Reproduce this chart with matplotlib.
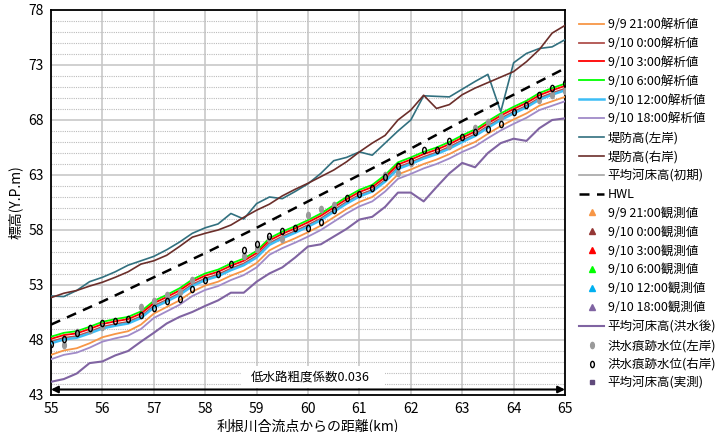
import matplotlib
matplotlib.use("Agg")
import matplotlib.pyplot as plt
from matplotlib.patches import Rectangle
from matplotlib.markers import MarkerStyle
from matplotlib.transforms import Affine2D

plt.rcParams['font.family'] = ['Noto Sans CJK JP', 'DejaVu Sans']

# distance (km), every 0.25 km
km = [55.0, 55.25, 55.5, 55.75, 56.0, 56.25, 56.5, 56.75, 57.0, 57.25, 57.5, 57.75,
      58.0, 58.25, 58.5, 58.75, 59.0, 59.25, 59.5, 59.75, 60.0, 60.25, 60.5, 60.75,
      61.0, 61.25, 61.5, 61.75, 62.0, 62.25, 62.5, 62.75, 63.0, 63.25, 63.5, 63.75,
      64.0, 64.25, 64.5, 64.75, 65.0]

# analysis water levels
wl_0909_21 = [46.65, 47.05, 47.25, 47.7, 48.25, 48.55, 48.8, 49.4, 50.4, 51.0, 51.6, 52.4,
              52.95, 53.3, 53.85, 54.3, 55.0, 56.15, 56.75, 57.25, 57.8, 58.4, 59.15, 59.9,
              60.55, 61.0, 61.9, 63.05, 63.5, 64.0, 64.4, 64.9, 65.5, 66.0, 66.75, 67.45,
              68.05, 68.6, 69.3, 69.7, 70.1]
wl_0910_00 = [47.85, 48.2, 48.35, 48.75, 49.2, 49.45, 49.65, 50.15, 51.1, 51.65, 52.25, 53.05,
              53.6, 53.95, 54.5, 54.95, 55.65, 56.8, 57.4, 57.9, 58.45, 59.05, 59.8, 60.55,
              61.2, 61.65, 62.55, 63.7, 64.15, 64.65, 65.05, 65.55, 66.15, 66.7, 67.45, 68.15,
              68.75, 69.3, 70.0, 70.45, 70.85]
wl_0910_03 = [48.1, 48.45, 48.6, 49.0, 49.45, 49.7, 49.9, 50.4, 51.35, 51.9, 52.5, 53.3,
              53.85, 54.2, 54.75, 55.2, 55.9, 57.05, 57.65, 58.15, 58.7, 59.3, 60.05, 60.8,
              61.45, 61.9, 62.8, 63.95, 64.4, 64.9, 65.3, 65.8, 66.4, 66.95, 67.7, 68.4,
              69.0, 69.55, 70.25, 70.7, 71.1]
wl_0910_06 = [48.3, 48.65, 48.8, 49.2, 49.65, 49.9, 50.1, 50.6, 51.55, 52.1, 52.7, 53.5,
              54.05, 54.4, 54.95, 55.4, 56.1, 57.25, 57.85, 58.35, 58.9, 59.5, 60.25, 61.0,
              61.65, 62.1, 63.0, 64.15, 64.6, 65.1, 65.5, 66.0, 66.6, 67.15, 67.9, 68.6,
              69.2, 69.75, 70.45, 70.9, 71.3]
wl_0910_12 = [47.7, 48.05, 48.2, 48.6, 49.05, 49.3, 49.5, 50.0, 50.95, 51.5, 52.1, 52.9,
              53.45, 53.8, 54.35, 54.8, 55.5, 56.65, 57.25, 57.75, 58.3, 58.9, 59.65, 60.4,
              61.05, 61.5, 62.4, 63.55, 64.0, 64.5, 64.9, 65.4, 66.0, 66.55, 67.3, 68.0,
              68.6, 69.15, 69.85, 70.3, 70.7]
wl_0910_18 = [46.25, 46.65, 46.85, 47.3, 47.85, 48.15, 48.4, 49.0, 50.0, 50.6, 51.2, 52.0,
              52.55, 52.9, 53.45, 53.9, 54.6, 55.75, 56.35, 56.85, 57.4, 58.0, 58.75, 59.5,
              60.15, 60.6, 61.5, 62.65, 63.1, 63.6, 64.0, 64.5, 65.1, 65.6, 66.35, 67.05,
              67.65, 68.2, 68.9, 69.3, 69.7]

# levee crowns
levee_left = [52.0, 51.95, 52.5, 53.3, 53.7, 54.2, 54.8, 55.2, 55.6, 56.2, 56.9, 57.7,
              58.2, 58.55, 59.5, 59.0, 60.4, 61.0, 60.85, 61.5, 62.2, 63.15, 64.3, 64.6,
              65.1, 64.8, 65.9, 67.0, 68.0, 70.2, 70.15, 70.1, 70.8, 71.5, 72.15, 68.75,
              73.2, 74.05, 74.5, 74.65, 75.3]
levee_right = [51.85, 52.25, 52.5, 52.9, 53.25, 53.7, 54.2, 54.9, 55.2, 55.7, 56.5, 57.35,
               57.7, 58.0, 58.45, 59.15, 59.8, 60.35, 61.1, 61.7, 62.25, 62.85, 63.45, 64.2,
               65.1, 65.9, 66.6, 68.0, 68.9, 70.25, 69.05, 69.4, 70.3, 70.9, 71.4, 71.9,
               72.4, 73.3, 74.4, 75.9, 76.6]

# mean riverbed after flood
bed_after = [44.2, 44.45, 44.95, 45.9, 46.05, 46.6, 47.0, 47.85, 48.65, 49.5, 50.1, 50.55,
             51.1, 51.6, 52.3, 52.3, 53.3, 54.05, 54.6, 55.5, 56.5, 56.7, 57.4, 58.1,
             58.95, 59.2, 60.1, 61.4, 61.4, 60.6, 61.9, 63.15, 64.1, 63.7, 65.0, 65.9,
             66.3, 66.1, 67.25, 68.0, 68.15]

# HWL
hwl_km = [55, 56, 57, 58, 59, 60, 61, 62, 63, 64, 65]
hwl = [49.4, 51.5, 53.7, 55.9, 58.2, 60.6, 63.0, 65.4, 67.9, 70.3, 72.7]

# flood marks
mark_right = [47.65, 48.05, 48.6, 49.05, 49.55, 49.75, 49.9, 50.3, 50.95, 51.55, 51.75, 52.6,
              53.5, 54.0, 54.95, 56.2, 56.7, 57.45, 57.9, 58.15, 58.15, 58.7, 59.8, 60.9,
              61.3, 61.8, 62.8, 63.8, 64.3, 65.25, 65.3, 66.1, 66.5, 66.9, 67.15, 67.6,
              68.75, 69.35, 70.3, 70.9, 71.4]
mark_left_km = [55.25, 55.5, 55.75, 56.0, 56.75, 57.0, 57.25, 57.5, 57.75, 58.75, 59.0, 59.25,
                59.5, 60.0, 60.25, 60.5, 61.5, 61.75, 62.0, 62.75, 63.25, 63.5, 63.75, 64.5,
                64.75, 65.0]
mark_left = [47.55, 48.7, 48.95, 49.2, 51.0, 51.55, 52.1, 52.4, 53.45, 55.6, 56.3, 57.2,
             57.2, 59.35, 59.95, 60.25, 63.0, 63.15, 64.1, 65.6, 67.25, 67.85, 68.3, 69.8,
             70.3, 70.65]

ellipse = MarkerStyle('o', transform=Affine2D().scale(0.6, 1.0))

fig = plt.figure(figsize=(7.17, 4.32), dpi=100)
ax = fig.add_axes([51 / 717, 1 - 395 / 432, 514 / 717, 385 / 432])

ax.plot(km, wl_0909_21, color='#F79646', lw=1.3, label='9/9 21:00解析値', zorder=3)
ax.plot(km, wl_0910_00, color='#B0504D', lw=1.3, label='9/10 0:00解析値', zorder=3)
ax.plot(km, wl_0910_03, color='#FF0000', lw=1.3, label='9/10 3:00解析値', zorder=4)
ax.plot(km, wl_0910_06, color='#00FF00', lw=1.3, label='9/10 6:00解析値', zorder=3)
ax.plot(km, wl_0910_12, color='#3DBDF5', lw=1.8, label='9/10 12:00解析値', zorder=3)
ax.plot(km, wl_0910_18, color='#A08AC8', lw=1.3, label='9/10 18:00解析値', zorder=3)
ax.plot(km, levee_left, color='#31707F', lw=1.2, label='堤防高(左岸)', zorder=3)
ax.plot(km, levee_right, color='#6B2E2A', lw=1.2, label='堤防高(右岸)', zorder=3)
ax.plot([], [], color='#A6A6A6', lw=1.2, label='平均河床高(初期)')
ax.plot(hwl_km, hwl, color='black', lw=1.8, ls=(0, (4, 3)), label='HWL', zorder=3)
obs_colors = ['#F79646', '#953735', '#FF0000', '#00FF00', '#00B0F0', '#8064A2']
obs_labels = ['9/9 21:00観測値', '9/10 0:00観測値', '9/10 3:00観測値',
              '9/10 6:00観測値', '9/10 12:00観測値', '9/10 18:00観測値']
for c, lab in zip(obs_colors, obs_labels):
    ax.plot([], [], ls='none', marker='^', ms=5, color=c, label=lab)
ax.plot(km, bed_after, color='#8064A2', lw=1.5, label='平均河床高(洪水後)', zorder=3)
ax.plot(mark_left_km, mark_left, ls='none', marker=ellipse, ms=4.5, mfc='#9A9A9A', mec='#9A9A9A',
        label='洪水痕跡水位(左岸)', zorder=5)
ax.plot(km, mark_right, ls='none', marker=ellipse, ms=4.5, mfc='none', mec='black', mew=1,
        label='洪水痕跡水位(右岸)', zorder=6)
ax.plot([], [], ls='none', marker='s', ms=2.5, color='#604A7B', label='平均河床高(実測)')

ax.set_xlim(55, 65)
ax.set_ylim(43, 78)
ax.set_xticks(range(55, 66))
ax.set_yticks(range(43, 79, 5))
ax.set_yticks(range(43, 79), minor=True)
ax.tick_params(axis='y', which='minor', length=0)
ax.tick_params(length=0, labelsize=10, pad=5)
ax.grid(which='major', axis='both', color='#C8C8C8', lw=1.2)
ax.grid(which='minor', axis='y', color='#BBBBBB', lw=0.8, ls=(0, (1, 1)))
ax.set_axisbelow(True)
for s in ax.spines.values():
    s.set_linewidth(1.3)
    s.set_color('black')

ax.set_xlabel('利根川合流点からの距離(km)', fontsize=10, labelpad=2)
ax.set_ylabel('標高(Y.P.m)', fontsize=10, labelpad=4)

# roughness note with span arrow
ax.add_patch(Rectangle((58.7, 43.65), 2.8, 1.95, facecolor='white', edgecolor='none', zorder=2))
ax.text(60.05, 44.6, '低水路粗度係数0.036', ha='center', va='center', fontsize=9, zorder=7)
ax.annotate('', xy=(55.0, 43.5), xytext=(65.0, 43.5),
            arrowprops=dict(arrowstyle='<|-|>', color='black', lw=1.5, mutation_scale=10,
                            shrinkA=0, shrinkB=0), zorder=7)

ax.legend(loc='upper left', bbox_to_anchor=(574 / 717, 1 - 13 / 432),
          bbox_transform=fig.transFigure, frameon=False, fontsize=9,
          handlelength=2.0, handletextpad=0.3, labelspacing=0.47, borderaxespad=0)

fig.savefig('out.png', dpi=100)
